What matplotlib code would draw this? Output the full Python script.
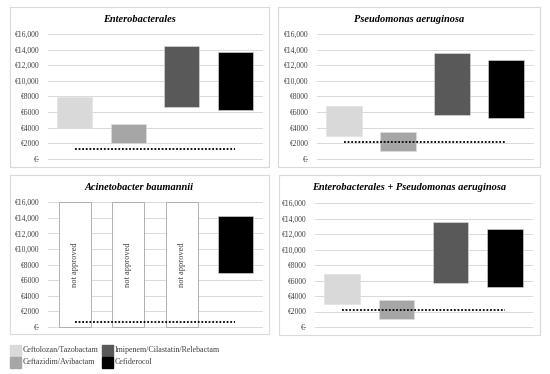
import matplotlib.pyplot as plt
from matplotlib.patches import Rectangle

# data (euro)
drugs = ["Ceftolozan/Tazobactam", "Ceftazidim/Avibactam",
         "Imipenem/Cilastatin/Relebactam", "Cefiderocol"]
colors = ["#d9d9d9", "#a6a6a6", "#595959", "#000000"]

titles = ["Enterobacterales", "Pseudomonas aeruginosa",
          "Acinetobacter baumannii", "Enterobacterales + Pseudomonas aeruginosa"]

low_entero = [4000, 2050, 6600, 6250]
high_entero = [7900, 4450, 14500, 13700]
low_pseudo = [2950, 1050, 5600, 5200]
high_pseudo = [6800, 3450, 13500, 12650]
low_acineto = [None, None, None, 6850]
high_acineto = [None, None, None, 14300]
low_combo = [2950, 1000, 5650, 5200]
high_combo = [6800, 3450, 13550, 12700]
threshold = [1300, 2200, 650, 2250]

yticks = [0, 2000, 4000, 6000, 8000, 10000, 12000, 14000, 16000]
ytick_labels = ["€-", "€2000", "€4000", "€6000", "€8000",
                "€10,000", "€12,000", "€14,000", "€16,000"]

W, H = 550, 374
plt.rcParams["font.family"] = ["Liberation Serif", "DejaVu Serif"]
fig = plt.figure(figsize=(W / 100, H / 100), dpi=100)


def px_rect(x0, y0, x1, y1):
    # pixel box (top-left origin) -> figure fraction [l, b, w, h]
    return [x0 / W, 1 - y1 / H, (x1 - x0) / W, (y1 - y0) / H]


panels = [
    (px_rect(10, 7, 269, 167), px_rect(48, 34, 262, 158.7), 20,
     low_entero, high_entero),
    (px_rect(278, 7, 540, 167), px_rect(317, 34, 533, 158.7), 20,
     low_pseudo, high_pseudo),
    (px_rect(10, 175, 269, 334), px_rect(48, 202.3, 262, 326.7), 187,
     low_acineto, high_acineto),
    (px_rect(279, 175, 540, 335), px_rect(315, 203, 532, 327), 187,
     low_combo, high_combo),
]

for i, (box, axpos, title_y, lows, highs) in enumerate(panels):
    fig.patches.append(Rectangle((box[0], box[1]), box[2], box[3],
                                 transform=fig.transFigure, fill=False,
                                 edgecolor="#d9d9d9", linewidth=0.8))
    ax = fig.add_axes(axpos)
    for j in range(4):
        if lows[j] is None:
            ax.bar(j, 16000, bottom=0, width=0.6, color="white",
                   edgecolor="#b0b0b0", linewidth=0.7, zorder=3, clip_on=False)
            ax.text(j, 8000, "not approved", rotation=90, ha="center",
                    va="center", fontsize=6, color="#404040", zorder=4)
        else:
            ax.bar(j, highs[j] - lows[j], bottom=lows[j], width=0.65,
                   color=colors[j], edgecolor="#e0e0e0", linewidth=0.4,
                   zorder=3)
    ax.plot([0, 3], [threshold[i], threshold[i]], color="black",
            linestyle=(0, (1, 1)), linewidth=1.3, zorder=5)
    ax.set_xlim(-0.5, 3.5)
    ax.set_ylim(0, 16000)
    ax.set_yticks(yticks)
    ax.set_yticklabels(ytick_labels, fontsize=5.5, color="#404040")
    ax.set_xticks([])
    ax.tick_params(axis="y", length=0, pad=6)
    for s in ax.spines.values():
        s.set_visible(False)
    for t in yticks:
        ax.axhline(t, color="#d9d9d9", linewidth=0.7, zorder=1, clip_on=False)
    cx = box[0] + box[2] / 2
    fig.text(cx, 1 - title_y / H, titles[i], ha="center", va="center",
             fontsize=7.5, fontweight="bold", fontstyle="italic")

# legend
leg_pos = [(10, 345), (10, 357), (102, 345), (102, 357)]
for (x, y), name, c in zip(leg_pos, drugs, colors):
    fig.patches.append(Rectangle((x / W, 1 - (y + 11) / H), 11 / W, 11 / H,
                                 transform=fig.transFigure, color=c))
    fig.text((x + 13) / W, 1 - (y + 5.5) / H, name, ha="left", va="center",
             fontsize=5.8, color="#404040")

fig.savefig("out.png", dpi=100)
